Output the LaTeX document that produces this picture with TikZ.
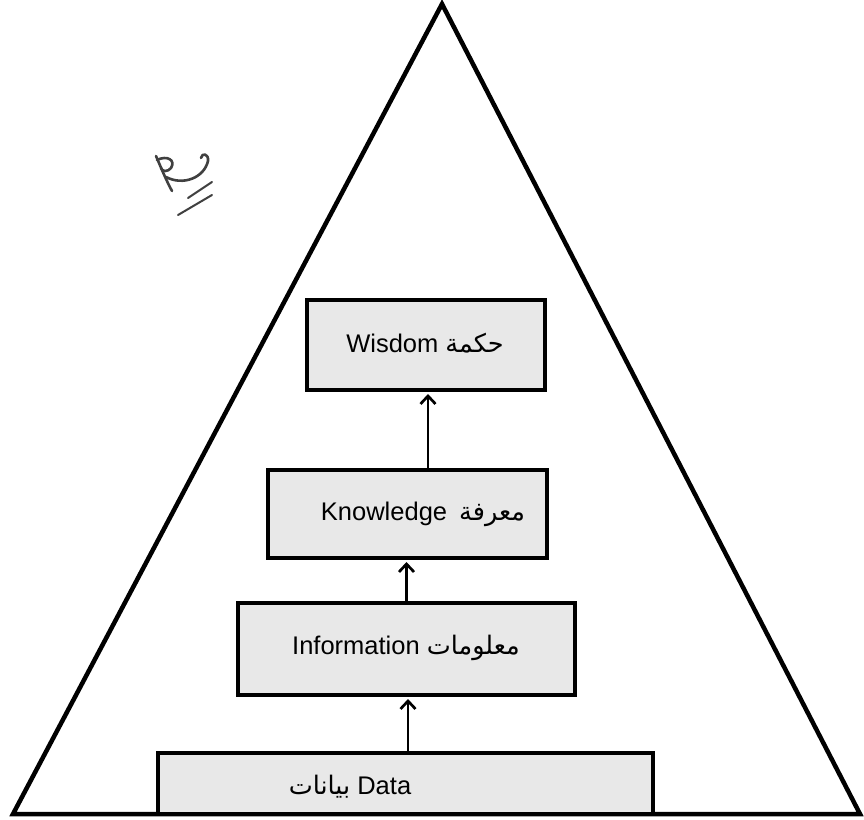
\documentclass[tikz,border=0pt]{standalone}
\usepackage{fontspec}
\setmainfont{Liberation Sans}
\newfontfamily\arabicfont[Script=Arabic]{DejaVu Sans}
\TeXXeTstate=1
\usetikzlibrary{arrows.meta,calc}
\newcommand\arabtxt[1]{{\arabicfont\beginR #1\endR}}
\tikzset{
  box/.style={draw=black, line width=4pt, fill=black!9, inner sep=0pt},
  lbl/.style={font=\fontsize{25.5}{28}\selectfont, inner sep=0pt, text=black},
  arr/.style={line width=2.7pt, -{Straight Barb[length=8pt,width=15pt,line width=2.7pt]}, shorten >=2pt},
  tri/.style={line width=4.5pt, line join=miter},
  scrib/.style={line width=2.6pt, line cap=round, line join=round, draw=black!75}
}
\begin{document}
\begin{tikzpicture}[x=1pt,y=-1pt]
\useasboundingbox (0,0) rectangle (864,819);
\fill[white] (0,0) rectangle (864,819);
% pyramid
\draw[tri] (13,814) -- (442,4) -- (860,814) -- cycle;
% boxes
\node[box, minimum width=238pt, minimum height=90pt] (wis) at (426,345) {};
\node[box, minimum width=279pt, minimum height=88pt] (kno) at (407.5,514) {};
\node[box, minimum width=337pt, minimum height=92pt] (inf) at (406.5,649) {};
\node[box, minimum width=495pt, minimum height=61pt] (dat) at (405.5,783.5) {};
\draw[tri] (13,814) -- (860,814);
% labels
\node[lbl] (twis) at (425,343) {Wisdom \arabtxt{حكمة}};
\node[lbl] (tkno) at (423,514) {Knowledge\hspace{12pt}\arabtxt{معرفة}};
\node[lbl] (tinf) at (406,648) {Information \arabtxt{معلومات}};
\node[lbl] (tdat) at (350,787) {\arabtxt{بيانات} Data};
% arrows
\draw[arr] ([xshift=2pt]wis.south |- kno.north) -- ([xshift=2pt]wis.south);
\draw[arr] (inf.north) -- (inf.north |- kno.south);
\draw[arr] ([xshift=1.5pt]inf.south |- dat.north) -- ([xshift=1.5pt]inf.south);
% handwritten mark
\draw[scrib] (156,156) .. controls (162,170) and (167,182) .. (172,191);
\draw[scrib] (157,160) .. controls (167,155) and (176,160) .. (171,168) .. controls (168,172) and (162,172) .. (161,168);
\draw[scrib] (166,177) .. controls (183,186) and (204,178) .. (208,161) .. controls (209,154) and (202,152) .. (201,158);
\draw[scrib, line width=2pt] (188,198) -- (212,182);
\draw[scrib, line width=2pt] (178,215) -- (212,195);
\end{tikzpicture}
\end{document}
